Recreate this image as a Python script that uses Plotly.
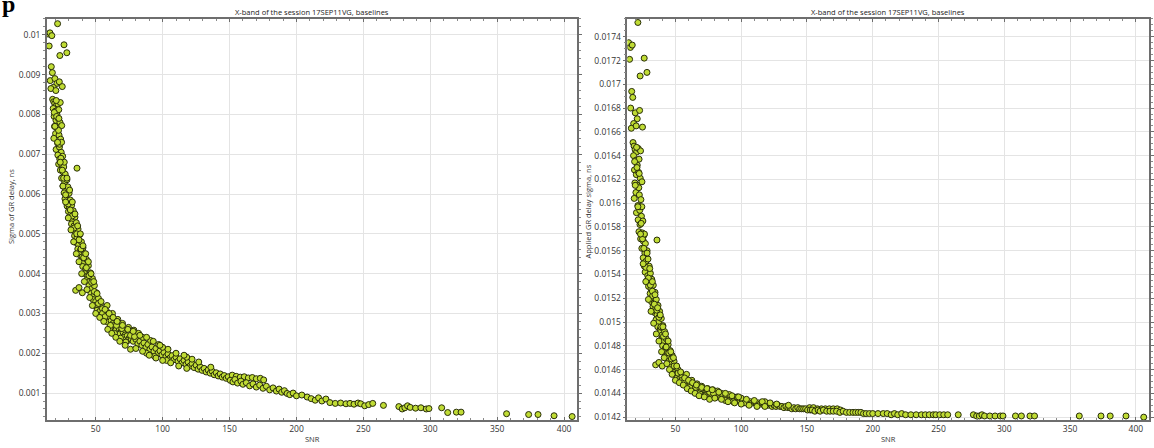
import plotly.graph_objects as go

# ---------------- data ----------------
SNR = [
    # isolated points at the top
    21.5, 14.5, 15.8, 17.2, 15.2, 26.3, 28.4, 23.2, 16.8, 17.6, 16.0, 19.5, 21.0, 22.8, 18.3, 25.0, 16.5, 20.2,
    17.8, 18.6, 19.4, 20.5, 21.8, 23.5, 18.2, 19.8, 21.0, 22.4,
    18.9, 20.3, 22.0, 23.3, 19.2, 21.2, 24.6, 20.0, 22.6, 18.7,
    23.8, 21.5, 20.4, 22.9, 24.2, 21.7, 23.1, 25.3, 22.3, 24.8,
    26.1, 23.6, 25.7, 27.2, 24.5, 26.8, 28.5, 25.5, 27.6, 29.2,
    26.4, 28.0, 30.1, 27.0, 29.0, 31.0, 28.6, 30.4, 32.0, 29.6,
    31.5, 33.2, 30.8, 32.7, 34.5, 31.9, 33.8, 35.5, 33.0, 34.9,
    36.8, 34.2, 36.0, 38.0, 35.3, 37.2, 39.3, 36.6, 38.5, 40.5,
    37.9, 39.8, 41.8, 39.0, 41.0, 43.0, 40.3, 42.4, 44.5, 42.0,
    44.0, 46.0, 43.5, 45.4, 47.5, 36.0, 35.0, 37.5, 40.0,
    45.0, 47.0, 49.0, 46.5, 48.6, 50.5, 48.0, 50.0, 52.0, 49.5,
    51.5, 53.5, 51.0, 53.0, 55.0, 54.0, 56.2, 58.0, 55.8, 57.8,
    60.0, 59.0, 61.5, 63.0, 62.0, 64.5, 66.0, 65.0, 67.5, 69.0,
    68.0, 70.5, 72.0, 71.0, 73.5, 75.0, 74.0, 76.5, 78.0, 58.5,
    62.5, 66.5, 70.0, 74.5, 78.5, 82.0, 60.5, 64.0, 68.5, 72.5,
    80.0, 81.5, 83.0, 84.5, 86.0, 87.5, 89.0, 90.5, 92.0, 93.5,
    95.0, 96.5, 98.0, 99.5, 101.0, 102.5, 104.0, 105.5, 107.0, 108.5,
    110.0, 85.0, 91.0, 97.0, 88.0, 94.0, 103.0, 100.0,
    111.5, 113.0, 114.5, 116.0, 117.5, 119.0, 120.5, 122.0, 123.5, 125.0,
    126.5, 128.0, 129.5, 131.0, 132.5, 134.0, 135.5, 137.0, 138.5, 140.0,
    141.5, 143.0, 144.5, 146.0, 147.5, 149.0, 118.0, 127.0, 136.0,
    152.0, 155.0, 158.0, 161.0, 164.0, 167.0, 170.0, 173.0, 175.5,
    150.5, 152.5, 154.0, 156.0, 158.5, 160.0, 162.5, 165.0, 167.5, 170.0,
    172.5, 175.0, 177.5, 180.0, 182.5, 185.0, 187.0, 189.0, 191.0, 193.0, 195.0, 197.5, 200.0,
    204.0, 208.0, 211.0, 214.0, 216.5, 219.0, 222.0, 225.0, 229.0, 233.0,
    237.0, 240.0, 243.0, 246.0, 248.0, 251.0, 254.0, 257.0, 265.0, 276.5,
    279.0, 281.0, 283.0, 285.0, 289.0, 293.0, 297.0, 299.0,
    308.5, 313.0, 319.5, 323.0, 357.0, 373.5, 380.5, 392.5, 406.0,
    19.0, 20.8, 22.2, 23.0, 24.0, 25.0, 26.0, 27.5, 29.5, 31.0, 32.5, 34.0, 35.8, 37.5,
    39.0, 41.0, 43.0, 45.0, 47.0, 49.0, 52.0, 55.0, 57.0, 61.0, 65.5, 69.5, 76.0, 79.0,
    # upper edge of the band
    20.5, 22.5, 24.5, 26.5, 28.5, 30.5, 32.5, 34.5, 36.5, 38.5, 40.5, 42.5, 44.5, 46.5, 48.5, 51.0,
    54.0, 57.0, 60.0, 63.0, 66.0, 70.0, 74.0, 78.0, 83.0, 88.0, 93.0, 98.0, 104.0, 110.0, 116.0, 122.0,
    # lower edge of the band
    19.5, 21.5, 23.5, 25.5, 27.5, 29.5, 31.5, 33.5, 35.5, 37.5, 39.5, 41.5, 43.5, 45.5, 47.5, 50.0,
    53.0, 56.0, 59.0, 62.0, 65.0, 68.0, 72.0, 76.0, 80.0, 85.0, 90.0, 95.0, 100.0, 106.0, 112.0, 118.0,
]

SIGMA_GR = [
    0.01028, 0.01002, 0.01005, 0.00998, 0.00972, 0.00975, 0.00955, 0.00948, 0.00920, 0.00905, 0.00885, 0.00890, 0.00878, 0.00882, 0.00868, 0.00870, 0.00865, 0.00860,
    0.00838, 0.00832, 0.00828, 0.00822, 0.00826, 0.00830, 0.00815, 0.00808, 0.00800, 0.00812,
    0.00795, 0.00785, 0.00790, 0.00780, 0.00770, 0.00765, 0.00772, 0.00752, 0.00748, 0.00740,
    0.00738, 0.00728, 0.00712, 0.00718, 0.00705, 0.00698, 0.00688, 0.00695, 0.00675, 0.00672,
    0.00668, 0.00660, 0.00655, 0.00650, 0.00640, 0.00630, 0.00636, 0.00620, 0.00612, 0.00618,
    0.00603, 0.00596, 0.00602, 0.00588, 0.00580, 0.00585, 0.00570, 0.00565, 0.00572, 0.00556,
    0.00550, 0.00558, 0.00540, 0.00535, 0.00542, 0.00525, 0.00520, 0.00528, 0.00510, 0.00505,
    0.00512, 0.00495, 0.00490, 0.00498, 0.00478, 0.00472, 0.00480, 0.00462, 0.00458, 0.00465,
    0.00448, 0.00442, 0.00450, 0.00432, 0.00428, 0.00436, 0.00418, 0.00412, 0.00420, 0.00400,
    0.00395, 0.00402, 0.00385, 0.00380, 0.00388, 0.00665, 0.00358, 0.00365, 0.00352,
    0.00370, 0.00362, 0.00370, 0.00350, 0.00345, 0.00352, 0.00335, 0.00330, 0.00338, 0.00320,
    0.00316, 0.00324, 0.00308, 0.00305, 0.00312, 0.00296, 0.00300, 0.00306, 0.00288, 0.00285,
    0.00292, 0.00278, 0.00282, 0.00275, 0.00268, 0.00272, 0.00265, 0.00258, 0.00262, 0.00255,
    0.00248, 0.00252, 0.00246, 0.00240, 0.00244, 0.00238, 0.00232, 0.00236, 0.00230, 0.00320,
    0.00300, 0.00285, 0.00275, 0.00265, 0.00258, 0.00250, 0.00262, 0.00250, 0.00238, 0.00228,
    0.00235, 0.00224, 0.00230, 0.00220, 0.00226, 0.00215, 0.00222, 0.00210, 0.00216, 0.00205,
    0.00212, 0.00200, 0.00206, 0.00196, 0.00202, 0.00192, 0.00198, 0.00188, 0.00194, 0.00184,
    0.00190, 0.00240, 0.00232, 0.00222, 0.00200, 0.00192, 0.00182, 0.00215,
    0.00180, 0.00186, 0.00176, 0.00182, 0.00172, 0.00178, 0.00168, 0.00174, 0.00164, 0.00170,
    0.00160, 0.00166, 0.00157, 0.00162, 0.00153, 0.00158, 0.00150, 0.00155, 0.00146, 0.00151,
    0.00143, 0.00148, 0.00140, 0.00144, 0.00137, 0.00141, 0.00190, 0.00178, 0.00165,
    0.00145, 0.00142, 0.00140, 0.00141, 0.00138, 0.00139, 0.00136, 0.00137, 0.00133,
    0.00132, 0.00128, 0.00134, 0.00125, 0.00130, 0.00122, 0.00126, 0.00118, 0.00123, 0.00115,
    0.00120, 0.00112, 0.00117, 0.00108, 0.00113, 0.00105, 0.00110, 0.00102, 0.00106, 0.00099, 0.00096, 0.00100, 0.00093,
    0.00095, 0.00090, 0.00086, 0.00082, 0.00088, 0.00080, 0.00085, 0.00076, 0.00074, 0.00075,
    0.00073, 0.00074, 0.00072, 0.00075, 0.00073, 0.00068, 0.00071, 0.00074, 0.00069, 0.00066,
    0.00060, 0.00063, 0.00068, 0.00064, 0.00062, 0.00063, 0.00060, 0.00061,
    0.00063, 0.00051, 0.00052, 0.00052, 0.00048, 0.00046, 0.00046, 0.00043, 0.00041,
    0.00805, 0.00795, 0.00760, 0.00725, 0.00690, 0.00660, 0.00640, 0.00598, 0.00575, 0.00560, 0.00545, 0.00515, 0.00500, 0.00485,
    0.00462, 0.00440, 0.00415, 0.00395, 0.00378, 0.00355, 0.00325, 0.00300, 0.00292, 0.00270, 0.00270, 0.00262, 0.00245, 0.00242,
    0.00835, 0.00790, 0.00730, 0.00680, 0.00640, 0.00610, 0.00580, 0.00550, 0.00520, 0.00500, 0.00470, 0.00450, 0.00430, 0.00400, 0.00380, 0.00350,
    0.00330, 0.00310, 0.00300, 0.00290, 0.00280, 0.00270, 0.00260, 0.00255, 0.00245, 0.00240, 0.00230, 0.00220, 0.00210, 0.00200, 0.00195, 0.00185,
    0.00770, 0.00730, 0.00680, 0.00620, 0.00580, 0.00540, 0.00510, 0.00480, 0.00450, 0.00430, 0.00400, 0.00380, 0.00360, 0.00340, 0.00320, 0.00300,
    0.00290, 0.00280, 0.00260, 0.00250, 0.00240, 0.00230, 0.00220, 0.00210, 0.00212, 0.00205, 0.00195, 0.00188, 0.00182, 0.00176, 0.00168, 0.00162,
]

APPLIED_SIGMA = [
    0.01752, 0.01735, 0.01731, 0.01733, 0.01721, 0.01722, 0.01710, 0.01707, 0.01694, 0.01689, 0.01680, 0.01676, 0.01671, 0.01678, 0.01667, 0.01664, 0.01663, 0.01665,
    0.01651, 0.01648, 0.01645, 0.01643, 0.01646, 0.01644, 0.01640, 0.01636, 0.01632, 0.01637,
    0.01628, 0.01624, 0.01626, 0.01621, 0.01617, 0.01615, 0.01618, 0.01609, 0.01607, 0.01604,
    0.01603, 0.01598, 0.01592, 0.01594, 0.01589, 0.01586, 0.01582, 0.01585, 0.01576, 0.01575,
    0.01573, 0.01570, 0.01568, 0.01566, 0.01562, 0.01558, 0.01560, 0.01554, 0.01551, 0.01553,
    0.01547, 0.01545, 0.01547, 0.01542, 0.01539, 0.01541, 0.01535, 0.01533, 0.01536, 0.01530,
    0.01528, 0.01531, 0.01524, 0.01522, 0.01525, 0.01517, 0.01516, 0.01519, 0.01513, 0.01511,
    0.01514, 0.01508, 0.01506, 0.01509, 0.01502, 0.01500, 0.01503, 0.01496, 0.01494, 0.01497,
    0.01491, 0.01489, 0.01492, 0.01485, 0.01484, 0.01486, 0.01480, 0.01478, 0.01481, 0.01475,
    0.01474, 0.01476, 0.01471, 0.01470, 0.01472, 0.01569, 0.01464, 0.01466, 0.01463,
    0.01467, 0.01465, 0.01467, 0.01462, 0.01461, 0.01463, 0.01459, 0.01458, 0.01460, 0.01456,
    0.01455, 0.01457, 0.01453, 0.01452, 0.01454, 0.01450, 0.01451, 0.01452, 0.01449, 0.01448,
    0.01450, 0.01447, 0.01448, 0.01446, 0.01445, 0.01446, 0.01444, 0.01443, 0.01444, 0.01442,
    0.01441, 0.01442, 0.01441, 0.01440, 0.01440, 0.01439, 0.01439, 0.01439, 0.01438, 0.01456,
    0.01451, 0.01448, 0.01446, 0.01444, 0.01443, 0.01442, 0.01444, 0.01442, 0.01440, 0.01438,
    0.01439, 0.01437, 0.01438, 0.01437, 0.01438, 0.01436, 0.01437, 0.01435, 0.01436, 0.01435,
    0.01436, 0.01434, 0.01435, 0.01433, 0.01434, 0.01433, 0.01434, 0.01432, 0.01433, 0.01432,
    0.01433, 0.01440, 0.01439, 0.01437, 0.01434, 0.01433, 0.01432, 0.01436,
    0.01431, 0.01432, 0.01431, 0.01432, 0.01430, 0.01431, 0.01430, 0.01431, 0.01429, 0.01430,
    0.01429, 0.01430, 0.01429, 0.01429, 0.01428, 0.01429, 0.01428, 0.01428, 0.01427, 0.01428,
    0.01427, 0.01428, 0.01427, 0.01427, 0.01427, 0.01427, 0.01433, 0.01431, 0.01430,
    0.01428, 0.01428, 0.01427, 0.01427, 0.01427, 0.01427, 0.01427, 0.01427, 0.01426,
    0.01426, 0.01426, 0.01426, 0.01425, 0.01426, 0.01425, 0.01426, 0.01425, 0.01425, 0.01425,
    0.01425, 0.01424, 0.01425, 0.01424, 0.01424, 0.01424, 0.01424, 0.01424, 0.01424, 0.01423, 0.01423, 0.01423, 0.01423,
    0.01423, 0.01423, 0.01423, 0.01422, 0.01423, 0.01422, 0.01423, 0.01422, 0.01422, 0.01422,
    0.01422, 0.01422, 0.01422, 0.01422, 0.01422, 0.01422, 0.01422, 0.01422, 0.01422, 0.01422,
    0.01421, 0.01421, 0.01422, 0.01421, 0.01421, 0.01421, 0.01421, 0.01421,
    0.01421, 0.01421, 0.01421, 0.01421, 0.01421, 0.01421, 0.01421, 0.01421, 0.01420,
    0.01635, 0.01630, 0.01613, 0.01597, 0.01583, 0.01570, 0.01562, 0.01546, 0.01537, 0.01531, 0.01526, 0.01515, 0.01510, 0.01504,
    0.01496, 0.01488, 0.01479, 0.01474, 0.01469, 0.01463, 0.01457, 0.01451, 0.01450, 0.01445, 0.01445, 0.01444, 0.01441, 0.01440,
    0.01647, 0.01625, 0.01597, 0.01574, 0.01558, 0.01545, 0.01534, 0.01523, 0.01512, 0.01506, 0.01496, 0.01490, 0.01484, 0.01475, 0.01470, 0.01463,
    0.01458, 0.01453, 0.01451, 0.01449, 0.01447, 0.01445, 0.01444, 0.01443, 0.01441, 0.01440, 0.01438, 0.01437, 0.01435, 0.01434, 0.01433, 0.01432,
    0.01615, 0.01597, 0.01574, 0.01549, 0.01534, 0.01519, 0.01509, 0.01499, 0.01490, 0.01484, 0.01475, 0.01470, 0.01465, 0.01460, 0.01456, 0.01451,
    0.01449, 0.01447, 0.01444, 0.01442, 0.01440, 0.01438, 0.01437, 0.01435, 0.01436, 0.01435, 0.01433, 0.01432, 0.01431, 0.01430, 0.01429, 0.01429,
]

assert len(SNR) == len(SIGMA_GR) == len(APPLIED_SIGMA), (len(SNR), len(SIGMA_GR), len(APPLIED_SIGMA))

X_TICKS = [50, 100, 150, 200, 250, 300, 350, 400]
Y1_TICKS = [0.001, 0.002, 0.003, 0.004, 0.005, 0.006, 0.007, 0.008, 0.009, 0.01]
Y1_LABELS = ["0.001", "0.002", "0.003", "0.004", "0.005", "0.006", "0.007", "0.008", "0.009", "0.01"]
Y2_TICKS = [0.0142, 0.0144, 0.0146, 0.0148, 0.015, 0.0152, 0.0154, 0.0156, 0.0158,
            0.016, 0.0162, 0.0164, 0.0166, 0.0168, 0.017, 0.0172, 0.0174]
Y2_LABELS = ["0.0142", "0.0144", "0.0146", "0.0148", "0.015", "0.0152", "0.0154", "0.0156", "0.0158",
             "0.016", "0.0162", "0.0164", "0.0166", "0.0168", "0.017", "0.0172", "0.0174"]

TITLE = "X-band of the session 17SEP11VG, baselines"
X_TITLE = "SNR"
Y1_TITLE = "Sigma of GR delay, ns"
Y2_TITLE = "Applied GR delay sigma, ns"

# ---------------- figure ----------------
W, H = 1154, 448
FONT = "Open Sans"
marker = dict(size=6, color="rgb(192,220,52)", line=dict(color="rgb(40,45,10)", width=1))

fig = go.Figure()
fig.add_trace(go.Scatter(x=SNR, y=SIGMA_GR, mode="markers", marker=marker,
                         xaxis="x", yaxis="y", showlegend=False, hoverinfo="x+y"))
fig.add_trace(go.Scatter(x=SNR, y=APPLIED_SIGMA, mode="markers", marker=marker,
                         xaxis="x2", yaxis="y2", showlegend=False, hoverinfo="x+y"))

def px_x(p):
    return p / W

def px_y(p):
    return 1 - p / H

top, bottom = 19, 422
l1, r1 = 47, 579
l2, r2 = 629, 1152

common = dict(showline=True, linecolor="#6e6e6e", linewidth=1.5, mirror="ticks",
              ticks="outside", ticklen=3, tickcolor="#6e6e6e",
              showgrid=True, gridcolor="#e4e4e4", gridwidth=1, zeroline=False,
              tickfont=dict(family=FONT, size=8.5, color="#333333"))

xcommon = dict(common, range=[13.5, 410], tickvals=X_TICKS, ticks="inside",
               minor=dict(ticks="inside", ticklen=2, tickcolor="#8a8a8a", dtick=10, showgrid=False))

fig.update_layout(
    width=W, height=H, autosize=False,
    margin=dict(l=0, r=0, t=0, b=0),
    paper_bgcolor="white", plot_bgcolor="white",
    xaxis=dict(xcommon, domain=[px_x(l1), px_x(r1)], anchor="y"),
    yaxis=dict(common, domain=[px_y(bottom), px_y(top)], anchor="x",
               range=[0.00032, 0.0104], tickvals=Y1_TICKS, ticktext=Y1_LABELS,
               minor=dict(ticks="outside", ticklen=2, tickcolor="#8a8a8a", dtick=0.0002, showgrid=False)),
    xaxis2=dict(xcommon, domain=[px_x(l2), px_x(r2)], anchor="y2"),
    yaxis2=dict(common, domain=[px_y(bottom), px_y(top)], anchor="x2",
                range=[0.014175, 0.01755], tickvals=Y2_TICKS, ticktext=Y2_LABELS,
                minor=dict(ticks="outside", ticklen=2, tickcolor="#8a8a8a", dtick=0.00005, showgrid=False)),
)

ann = []
for (l, r) in [(l1, r1), (l2, r2)]:
    ann.append(dict(text=TITLE, x=px_x((l + r) / 2), y=px_y(12), xref="paper", yref="paper",
                    xanchor="center", yanchor="middle", showarrow=False,
                    font=dict(family=FONT, size=7.5, color="#222222")))
    ann.append(dict(text=X_TITLE, x=px_x((l + r) / 2), y=px_y(441), xref="paper", yref="paper",
                    xanchor="center", yanchor="middle", showarrow=False,
                    font=dict(family=FONT, size=7.5, color="#333333")))
ann.append(dict(text=Y1_TITLE, x=px_x(11), y=px_y(207), xref="paper", yref="paper",
                xanchor="center", yanchor="middle", showarrow=False, textangle=-90,
                font=dict(family=FONT, size=7.5, color="#333333")))
ann.append(dict(text=Y2_TITLE, x=px_x(590), y=px_y(212), xref="paper", yref="paper",
                xanchor="center", yanchor="middle", showarrow=False, textangle=-90,
                font=dict(family=FONT, size=7.5, color="#333333")))
# clipped fragment of document text at the very top-left corner
ann.append(dict(text="<b>p</b>", x=px_x(0), y=1.025, xref="paper", yref="paper",
                xanchor="left", yanchor="top", showarrow=False,
                font=dict(family="Liberation Serif", size=24, color="black")))
fig.update_layout(annotations=ann)

# remove the browser's default 8px page margin so the figure sits at (0, 0)
fig.write_html("out.html", config={"displayModeBar": False},
               post_script="document.body.style.margin='0';document.body.style.overflow='hidden';")
